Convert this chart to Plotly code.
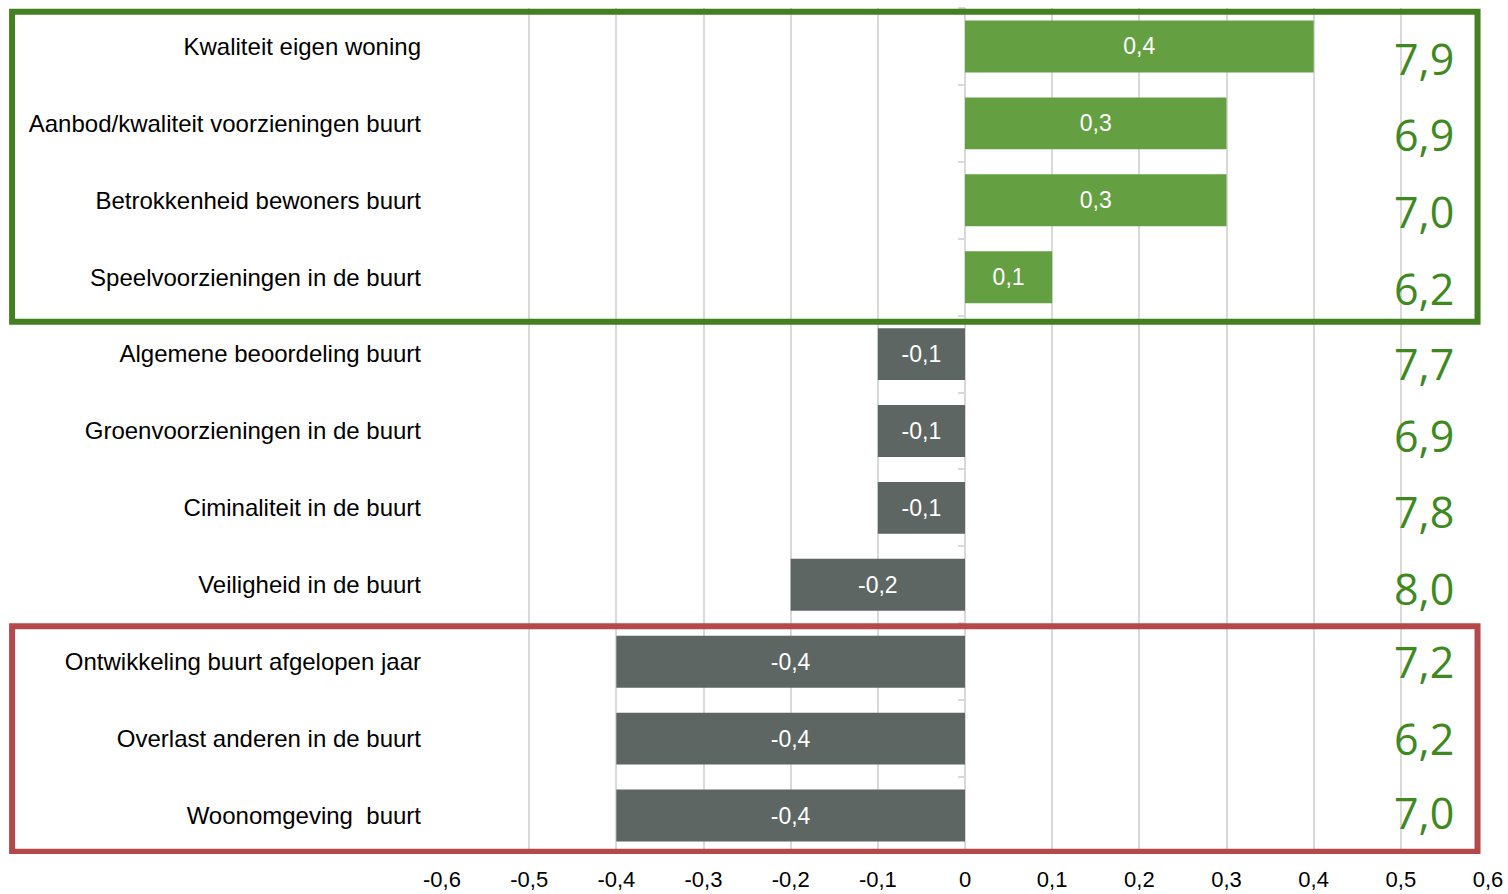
import plotly.graph_objects as go

# Thema's (van boven naar beneden), verschil t.o.v. vorige meting en huidig rapportcijfer
categories = [
    "Kwaliteit eigen woning",
    "Aanbod/kwaliteit voorzieningen buurt",
    "Betrokkenheid bewoners buurt",
    "Speelvoorzieningen in de buurt",
    "Algemene beoordeling buurt",
    "Groenvoorzieningen in de buurt",
    "Ciminaliteit in de buurt",
    "Veiligheid in de buurt",
    "Ontwikkeling buurt afgelopen jaar",
    "Overlast anderen in de buurt",
    "Woonomgeving  buurt",
]
differences = [0.4, 0.3, 0.3, 0.1, -0.1, -0.1, -0.1, -0.2, -0.4, -0.4, -0.4]
scores = ["7,9", "6,9", "7,0", "6,2", "7,7", "6,9", "7,8", "8,0", "7,2", "6,2", "7,0"]
x_ticks = [-0.6, -0.5, -0.4, -0.3, -0.2, -0.1, 0, 0.1, 0.2, 0.3, 0.4, 0.5, 0.6]

# verticale verschuiving (px) van de losse cijfer-tekstvakjes rechts
score_yshift = [-12, -11, -11, -11, -9, -4, -4, -4, 0, 0, 3]

GREEN_BAR = "#64a042"
GREY_BAR = "#5e6664"
GREEN_BOX = "#447f21"
RED_BOX = "#b5484a"
SCORE_GREEN = "#3f8a1f"
GRID = "#d9d9d9"
FONT = "Liberation Sans, Arial, sans-serif"


def nl(v):
    s = f"{v:.1f}".replace(".", ",")
    return "0" if v == 0 else s


bar_colors = [GREEN_BAR if v > 0 else GREY_BAR for v in differences]

fig = go.Figure()
fig.add_trace(go.Bar(
    y=categories,
    x=differences,
    orientation="h",
    marker=dict(color=bar_colors, line=dict(width=0)),
    text=[nl(v) for v in differences],
    textposition="inside",
    insidetextanchor="middle",
    textfont=dict(color="white", size=23, family=FONT),
    hoverinfo="skip",
))

# onzichtbare trace voor de as-streepjes langs de nullijn
fig.add_trace(go.Scatter(
    y=categories, x=[0] * len(categories), yaxis="y2",
    mode="markers", marker=dict(opacity=0), hoverinfo="skip", showlegend=False,
))

# rapportcijfers rechts naast de grafiek
for cat, sc, dy in zip(categories, scores, score_yshift):
    fig.add_annotation(
        x=0.969, xref="paper", y=cat, yref="y",
        text=sc, showarrow=False, xanchor="right", yanchor="middle",
        yshift=dy,
        font=dict(family="Open Sans, sans-serif", size=43, color=SCORE_GREEN),
    )

# kaders rond de positieve en de negatieve uitschieters
fig.add_shape(type="rect", xref="paper", yref="y",
              x0=-0.411, x1=0.990, y0=-0.45, y1=3.58,
              line=dict(color=GREEN_BOX, width=6), layer="above")
fig.add_shape(type="rect", xref="paper", yref="y",
              x0=-0.411, x1=0.990, y0=7.54, y1=10.47,
              line=dict(color=RED_BOX, width=6), layer="above")

fig.update_layout(
    width=1508, height=894,
    margin=dict(l=442, r=20, t=8, b=40, autoexpand=False),
    paper_bgcolor="white", plot_bgcolor="white",
    showlegend=False,
    bargap=0.325,
    font=dict(family=FONT, size=24, color="black"),
    xaxis=dict(
        range=[-0.6, 0.6],
        tickvals=x_ticks,
        ticktext=[nl(v) for v in x_ticks],
        showgrid=True, gridcolor=GRID, gridwidth=2,
        zeroline=False, showline=False,
        ticks="", ticklabelstandoff=10, automargin=False,
        tickfont=dict(size=22, family=FONT, color="black"),
    ),
    yaxis=dict(
        categoryorder="array", categoryarray=categories,
        range=[len(categories) - 0.5, -0.5],
        showgrid=False, zeroline=False, showline=False,
        ticks="", ticklabelstandoff=20, automargin=False,
        tickfont=dict(size=24, family=FONT, color="black"),
    ),
    yaxis2=dict(
        overlaying="y", anchor="free", position=0.5, side="left",
        categoryorder="array", categoryarray=categories,
        range=[len(categories) - 0.5, -0.5],
        showgrid=False, zeroline=False, showline=False,
        showticklabels=False, automargin=False,
        ticks="outside", tickson="boundaries", ticklen=7,
        tickcolor=GRID, tickwidth=2,
    ),
)

fig.write_html("out.html")
